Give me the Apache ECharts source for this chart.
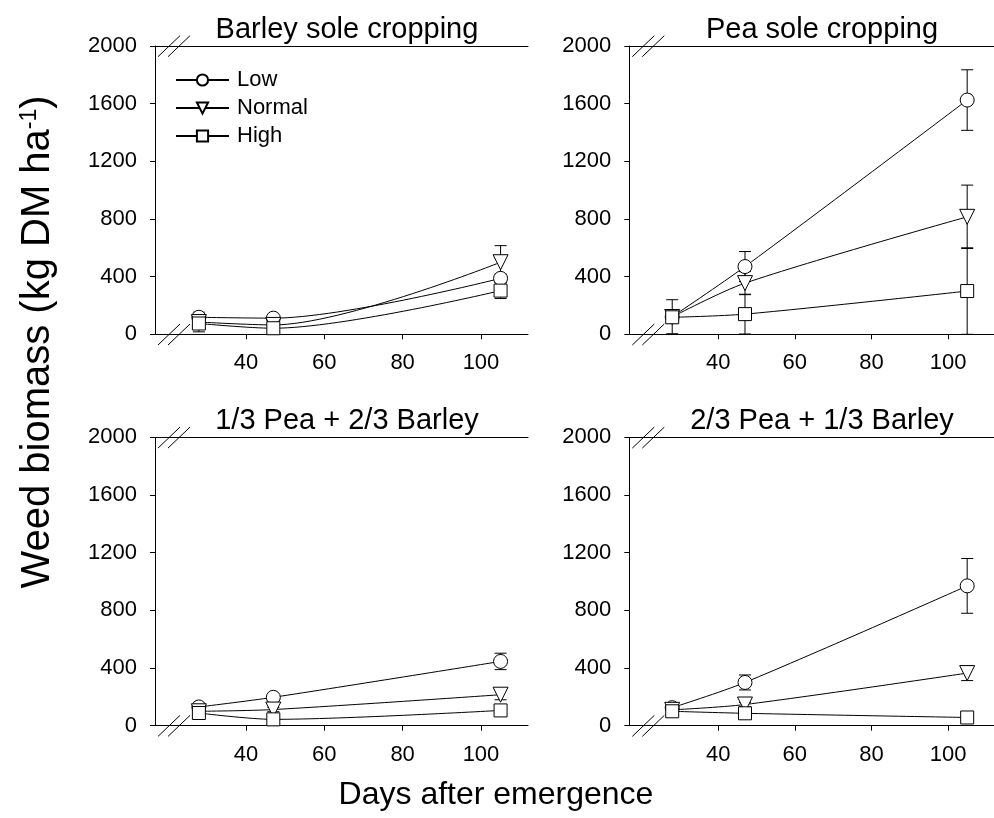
<!DOCTYPE html>
<html><head><meta charset="utf-8">
<script src="https://cdn.jsdelivr.net/npm/echarts@6/dist/echarts.min.js"></script>
<style>html,body{margin:0;padding:0;background:#fff}#c{width:994px;height:818px}</style>
</head><body><div id="c"></div>
<script>
// ---- data ----
const days = [28, 47, 105];
const xTickValues = [40, 60, 80, 100];
const seriesNames = ['Low', 'Normal', 'High'];
const panelTitles = ['Barley sole cropping', 'Pea sole cropping', '1/3 Pea + 2/3 Barley', '2/3 Pea + 1/3 Barley'];

const barleyLow = [118, 112, 388];
const barleyLowErr = [20, 15, 30];
const barleyNormal = [85, 65, 500];
const barleyNormalErr = [68, 20, 115];
const barleyHigh = [75, 42, 303];
const barleyHighErr = [20, 15, 55];

const peaLow = [122, 470, 1625];
const peaLowErr = [118, 104, 210];
const peaNormal = [120, 355, 815];
const peaNormalErr = [40, 80, 220];
const peaHigh = [118, 140, 300];
const peaHighErr = [40, 138, 300];

const mix13Low = [130, 197, 446];
const mix13LowErr = [15, 20, 57];
const mix13Normal = [100, 112, 215];
const mix13NormalErr = [10, 15, 35];
const mix13High = [88, 44, 106];
const mix13HighErr = [10, 10, 15];

const mix23Low = [125, 300, 970];
const mix23LowErr = [15, 52, 190];
const mix23Normal = [110, 147, 365];
const mix23NormalErr = [10, 15, 52];
const mix23High = [100, 86, 57];
const mix23HighErr = [10, 10, 10];

const panels = [
  [[barleyLow, barleyLowErr], [barleyNormal, barleyNormalErr], [barleyHigh, barleyHighErr]],
  [[peaLow, peaLowErr], [peaNormal, peaNormalErr], [peaHigh, peaHighErr]],
  [[mix13Low, mix13LowErr], [mix13Normal, mix13NormalErr], [mix13High, mix13HighErr]],
  [[mix23Low, mix23LowErr], [mix23Normal, mix23NormalErr], [mix23High, mix23HighErr]]
];

// ---- layout / style ----
const FONT = '"Liberation Sans", Arial, sans-serif';
const X_MIN = 16.8, X_MAX = 112;
const grids = [
  {left: 155, top: 46, width: 373, height: 288.3},
  {left: 629.3, top: 46, width: 371, height: 288.3},
  {left: 155, top: 437.4, width: 373, height: 288.3},
  {left: 629.3, top: 437.4, width: 371, height: 288.3}
];
const titlePos = [[347, 30], [822, 30], [347, 421], [822, 421]];
const symbols = [
  {symbol: 'circle', symbolSize: 14, symbolRotate: 0},
  {symbol: 'triangle', symbolSize: 15, symbolRotate: 180},
  {symbol: 'rect', symbolSize: 13, symbolRotate: 0}
];

const xAxes = [], yAxes = [], series = [];
grids.forEach((g, i) => {
  xAxes.push({
    gridIndex: i, type: 'value', min: X_MIN, max: X_MAX,
    axisLine: {show: true, onZero: false, lineStyle: {color: '#000', width: 1}},
    axisTick: {show: true, length: 5, customValues: xTickValues, lineStyle: {color: '#000', width: 1}},
    axisLabel: {show: true, customValues: xTickValues, fontSize: 22, color: '#000', fontFamily: FONT, margin: 18},
    splitLine: {show: false}
  });
  xAxes.push({
    gridIndex: i, type: 'value', position: 'top', min: X_MIN, max: X_MAX,
    axisLine: {show: true, onZero: false, lineStyle: {color: '#000', width: 1}},
    axisTick: {show: false}, axisLabel: {show: false}, splitLine: {show: false}
  });
  yAxes.push({
    gridIndex: i, type: 'value', min: 0, max: 2000, interval: 400,
    axisLine: {show: true, onZero: false, lineStyle: {color: '#000', width: 1}},
    axisTick: {show: true, length: 5, lineStyle: {color: '#000', width: 1}},
    axisLabel: {fontSize: 22, color: '#000', fontFamily: FONT, margin: 18, formatter: v => String(v)},
    splitLine: {show: false}
  });
  panels[i].forEach((pair, k) => {
    const vals = pair[0], errs = pair[1];
    series.push({
      type: 'custom', name: seriesNames[k] + ' error', xAxisIndex: 2 * i, yAxisIndex: i, z: 1,
      data: days.map((d, j) => [d, vals[j], errs[j]]),
      encode: {x: 0, y: 1},
      silent: true,
      renderItem: (params, api) => {
        const x = api.value(0), y = api.value(1), e = api.value(2);
        const t = api.coord([x, y + e]), b = api.coord([x, y - e]);
        const w = 6;
        const st = {stroke: '#000', lineWidth: 1};
        return {type: 'group', children: [
          {type: 'line', shape: {x1: t[0], y1: t[1], x2: b[0], y2: b[1]}, style: st},
          {type: 'line', shape: {x1: t[0] - w, y1: t[1], x2: t[0] + w, y2: t[1]}, style: st},
          {type: 'line', shape: {x1: b[0] - w, y1: b[1], x2: b[0] + w, y2: b[1]}, style: st}
        ]};
      }
    });
    series.push({
      type: 'line', name: seriesNames[k], xAxisIndex: 2 * i, yAxisIndex: i, z: 3,
      data: days.map((d, j) => [d, vals[j]]),
      smooth: 0.3,
      symbol: symbols[k].symbol, symbolSize: symbols[k].symbolSize, symbolRotate: symbols[k].symbolRotate,
      showAllSymbol: true,
      lineStyle: {color: '#000', width: 1},
      itemStyle: {color: '#fff', borderColor: '#000', borderWidth: 1},
      emphasis: {disabled: true}
    });
  });
});

const chart = echarts.init(document.getElementById('c'), null, {renderer: 'canvas'});
const baseGraphics = [];
panelTitles.forEach((t, i) => {
  baseGraphics.push({type: 'text', x: titlePos[i][0], y: titlePos[i][1],
    style: {text: t, fontSize: 29, fontFamily: FONT, fill: '#000', align: 'center', verticalAlign: 'middle'}});
});
baseGraphics.push({type: 'text', x: 496, y: 795,
  style: {text: 'Days after emergence', fontSize: 32, fontFamily: FONT, fill: '#000', align: 'center', verticalAlign: 'middle'}});
baseGraphics.push({type: 'text', x: 38, y: 342, rotation: Math.PI / 2,
  style: {text: 'Weed biomass (kg DM ha{sup|-1})', fontSize: 40, fontFamily: FONT, fill: '#000', align: 'center', verticalAlign: 'middle',
    rich: {sup: {fontSize: 23, fontFamily: FONT, fill: '#000', verticalAlign: 'top'}}}});

chart.setOption({
  animation: false,
  backgroundColor: '#fff',
  grid: grids,
  xAxis: xAxes,
  yAxis: yAxes,
  legend: {
    data: seriesNames, orient: 'vertical', left: 170, top: 63,
    itemWidth: 53, itemHeight: 14, itemGap: 4,
    textStyle: {fontSize: 22, color: '#000', fontFamily: FONT, lineHeight: 24, padding: [0, 0, 0, 3]},
    selectedMode: false
  },
  series: series,
  graphic: baseGraphics
});

// axis-break marks at the left corners of each panel
const breaks = [];
grids.forEach((g, i) => {
  [2000, 0].forEach(v => {
    const p = chart.convertToPixel({xAxisIndex: 2 * i, yAxisIndex: i}, [X_MIN, v]);
    [3, 13].forEach(dx => {
      breaks.push({type: 'line', silent: true,
        shape: {x1: p[0] + dx, y1: p[1] + 10.7, x2: p[0] + dx + 22, y2: p[1] - 10.3},
        style: {stroke: '#000', lineWidth: 1}});
    });
  });
});
chart.setOption({graphic: baseGraphics.concat(breaks)});
</script></body></html>
